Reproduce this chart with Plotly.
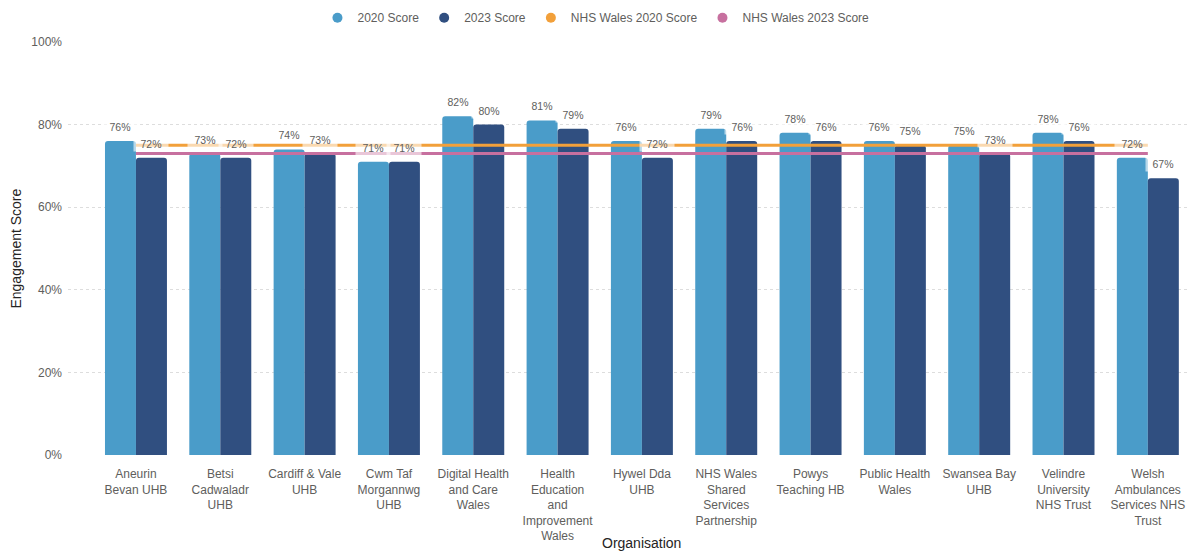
import plotly.graph_objects as go

categories = [
    "Aneurin<br>Bevan UHB", "Betsi<br>Cadwaladr<br>UHB", "Cardiff & Vale<br>UHB",
    "Cwm Taf<br>Morgannwg<br>UHB", "Digital Health<br>and Care<br>Wales",
    "Health<br>Education<br>and<br>Improvement<br>Wales", "Hywel Dda<br>UHB",
    "NHS Wales<br>Shared<br>Services<br>Partnership", "Powys<br>Teaching HB",
    "Public Health<br>Wales", "Swansea Bay<br>UHB", "Velindre<br>University<br>NHS Trust",
    "Welsh<br>Ambulances<br>Services NHS<br>Trust",
]
score_2020 = [0.76, 0.73, 0.74, 0.71, 0.82, 0.81, 0.76, 0.79, 0.78, 0.76, 0.75, 0.78, 0.72]
score_2023 = [0.72, 0.72, 0.73, 0.71, 0.80, 0.79, 0.72, 0.76, 0.76, 0.75, 0.73, 0.76, 0.67]
nhs_2020 = 0.75
nhs_2023 = 0.73
y_ticks = [0, 0.2, 0.4, 0.6, 0.8, 1.0]

C2020 = "#4A9CC9"
C2023 = "#304F80"
CORANGE = "#F2A03A"
CPINK = "#C7709F"
GRAY = "#605E5C"
FONT = "Liberation Sans, Arial, sans-serif"

fig = go.Figure()
fig.add_trace(go.Bar(x=categories, y=score_2020, name="2020 Score", marker_color=C2020,
                     showlegend=False, marker_line_width=0))
fig.add_trace(go.Bar(x=categories, y=score_2023, name="2023 Score", marker_color=C2023,
                     showlegend=False, marker_line_width=0))
fig.add_trace(go.Scatter(x=categories, y=[nhs_2020] * len(categories), mode="lines",
                         line=dict(color=CORANGE, width=3), showlegend=False,
                         name="NHS Wales 2020 Score"))
fig.add_trace(go.Scatter(x=categories, y=[nhs_2023] * len(categories), mode="lines",
                         line=dict(color=CPINK, width=3), showlegend=False,
                         name="NHS Wales 2023 Score"))

for nm, col in [("2020 Score", C2020), ("2023 Score", C2023),
                ("NHS Wales 2020 Score", CORANGE), ("NHS Wales 2023 Score", CPINK)]:
    fig.add_trace(go.Scatter(x=[None], y=[None], mode="markers", name=nm,
                             marker=dict(symbol="circle", size=10, color=col)))

for cat, a, b in zip(categories, score_2020, score_2023):
    for val, shift in [(a, -15.5), (b, 15.5)]:
        fig.add_annotation(x=cat, y=val, text=f"{round(val*100)}%", showarrow=False,
                           xshift=shift, yshift=6, yanchor="bottom",
                           font=dict(family=FONT, size=10.5, color=GRAY),
                           bgcolor="rgba(255,255,255,0.6)", width=32, borderpad=1)

fig.add_annotation(text="Organisation", xref="paper", x=0.511, xanchor="center",
                   yref="paper", y=-0.213, yanchor="middle", showarrow=False,
                   font=dict(family=FONT, size=14, color="#252423"))
fig.add_annotation(text="Engagement Score", xref="paper", x=-0.0472, xanchor="center",
                   yref="paper", y=0.5, yanchor="middle", textangle=-90, showarrow=False,
                   font=dict(family=FONT, size=14, color="#252423"))

fig.update_layout(
    width=1189, height=543,
    margin=dict(l=60, r=7, t=34, b=96, autoexpand=False),
    paper_bgcolor="white", plot_bgcolor="white",
    barmode="group", bargap=0.265, bargroupgap=0, barcornerradius=3,
    font=dict(family=FONT, size=12, color=GRAY),
    legend=dict(orientation="h", xref="container", x=0.4945, xanchor="center",
                yref="container", y=0.982, yanchor="middle",
                font=dict(family=FONT, size=12, color=GRAY), itemwidth=30,
                tracegroupgap=0),
    xaxis=dict(range=[-0.806, 12.5], showgrid=False, zeroline=False, showline=False,
               automargin=False, ticklabelstandoff=10,
               tickfont=dict(family=FONT, size=12, color=GRAY), ticks=""),
    yaxis=dict(range=[0, 1], tickvals=y_ticks, tickformat=".0%", automargin=False,
               showgrid=True, gridcolor="#DDDDDD", griddash="dot", gridwidth=1,
               zeroline=False, showline=False, ticklabelstandoff=5,
               tickfont=dict(family=FONT, size=12, color=GRAY)),
)

fig.write_html("out.html")
